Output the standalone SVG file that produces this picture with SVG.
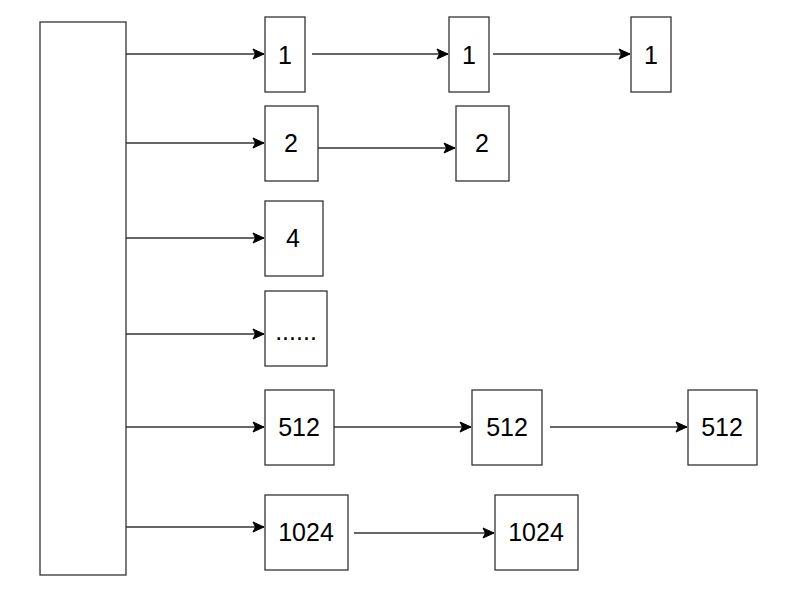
<svg xmlns="http://www.w3.org/2000/svg" width="796" height="610" viewBox="0 0 796 610">
<defs>
<style>
.n{fill:#fff;stroke:#333;stroke-width:1.3}
.t{font-family:"Liberation Sans",Arial,sans-serif;font-size:25px;fill:#000;text-anchor:middle;dominant-baseline:central}
.c{fill:none;stroke:#333;stroke-width:1.3}
</style>
<marker id="ah" markerUnits="userSpaceOnUse" markerWidth="14" markerHeight="14" viewBox="0 0 14 14" refX="12" refY="7" orient="auto">
<path d="M1,2 L12,7 L1,12 L3.5,7 Z" fill="#000" stroke="#000" stroke-width="1"/>
</marker>
</defs>
<rect width="796" height="610" fill="#fff"/>
<g id="connectors">
<line class="c" x1="126" y1="54" x2="264" y2="54" marker-end="url(#ah)"/>
<line class="c" x1="312" y1="54" x2="448" y2="54" marker-end="url(#ah)"/>
<line class="c" x1="493" y1="54" x2="630" y2="54" marker-end="url(#ah)"/>
<line class="c" x1="126" y1="143" x2="264" y2="143" marker-end="url(#ah)"/>
<line class="c" x1="316" y1="148" x2="455" y2="148" marker-end="url(#ah)"/>
<line class="c" x1="126" y1="238" x2="264" y2="238" marker-end="url(#ah)"/>
<line class="c" x1="126" y1="334" x2="264" y2="334" marker-end="url(#ah)"/>
<line class="c" x1="126" y1="427" x2="264" y2="427" marker-end="url(#ah)"/>
<line class="c" x1="334" y1="427" x2="471" y2="427" marker-end="url(#ah)"/>
<line class="c" x1="550" y1="427" x2="687" y2="427" marker-end="url(#ah)"/>
<line class="c" x1="126" y1="527" x2="264" y2="527" marker-end="url(#ah)"/>
<line class="c" x1="354" y1="533" x2="494" y2="533" marker-end="url(#ah)"/>
</g>
<g id="table"><rect class="n" x="40" y="22" width="86" height="553"/></g>
<g id="n1a"><rect class="n" x="265" y="17" width="40" height="75"/><text class="t" x="285" y="55">1</text></g>
<g id="n1b"><rect class="n" x="449" y="17" width="40" height="75"/><text class="t" x="469" y="55">1</text></g>
<g id="n1c"><rect class="n" x="631" y="17" width="40" height="75"/><text class="t" x="651" y="55">1</text></g>
<g id="n2a"><rect class="n" x="265" y="106" width="53" height="75"/><text class="t" x="291" y="143">2</text></g>
<g id="n2b"><rect class="n" x="456" y="106" width="53" height="75"/><text class="t" x="482" y="143">2</text></g>
<g id="n4"><rect class="n" x="265" y="201" width="58" height="75"/><text class="t" x="293" y="238">4</text></g>
<g id="ndots"><rect class="n" x="265" y="291" width="62" height="75"/><text class="t" x="296" y="331">......</text></g>
<g id="n512a"><rect class="n" x="265" y="390" width="69" height="75"/><text class="t" x="299" y="427">512</text></g>
<g id="n512b"><rect class="n" x="472" y="390" width="70" height="75"/><text class="t" x="507" y="427">512</text></g>
<g id="n512c"><rect class="n" x="688" y="390" width="69" height="75"/><text class="t" x="722" y="427">512</text></g>
<g id="n1024a"><rect class="n" x="265" y="495" width="83" height="75"/><text class="t" x="306" y="532">1024</text></g>
<g id="n1024b"><rect class="n" x="495" y="495" width="83" height="75"/><text class="t" x="536" y="532">1024</text></g>
</svg>
